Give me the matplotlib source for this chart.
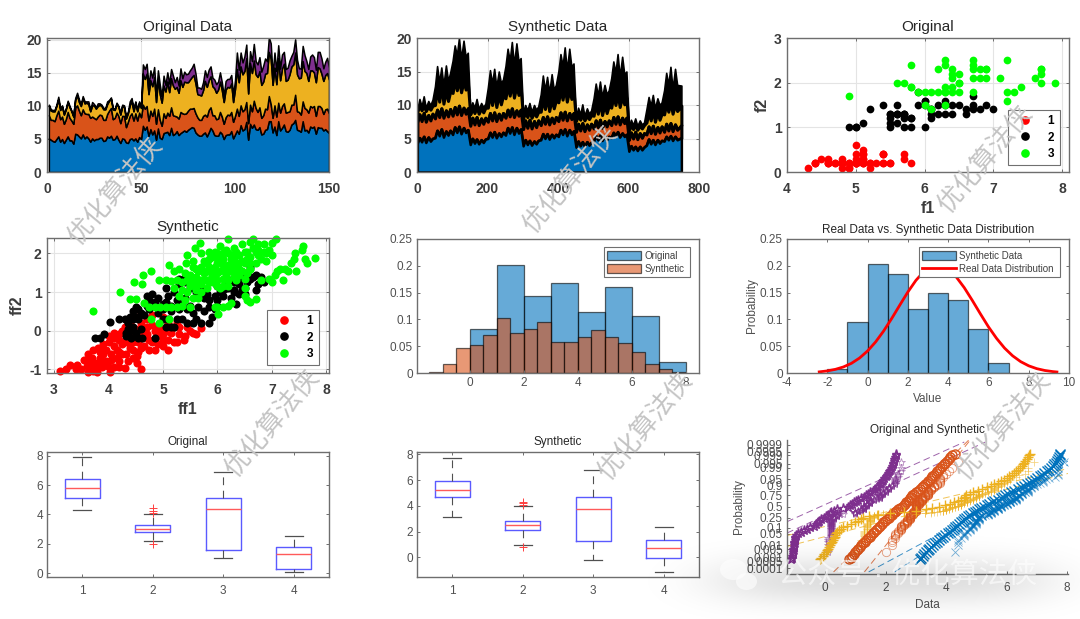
import numpy as np
import matplotlib
matplotlib.use("Agg")
import matplotlib.pyplot as plt
from matplotlib.lines import Line2D
from matplotlib.patches import Ellipse
from statistics import NormalDist

plt.rcParams['font.family'] = ['Liberation Sans', 'Noto Sans CJK SC', 'DejaVu Sans']
plt.rcParams['axes.unicode_minus'] = False

W, H = 1080, 619

# iris features, as seen in the "Original" panels
sepal_l = [5.1,4.9,4.7,4.6,5.0,5.4,4.6,5.0,4.4,4.9,5.4,4.8,4.8,4.3,5.8,5.7,5.4,5.1,5.7,5.1,5.4,5.1,4.6,5.1,4.8,5.0,5.0,5.2,5.2,4.7,4.8,5.4,5.2,5.5,4.9,5.0,5.5,4.9,4.4,5.1,5.0,4.5,4.4,5.0,5.1,4.8,5.1,4.6,5.3,5.0,
           7.0,6.4,6.9,5.5,6.5,5.7,6.3,4.9,6.6,5.2,5.0,5.9,6.0,6.1,5.6,6.7,5.6,5.8,6.2,5.6,5.9,6.1,6.3,6.1,6.4,6.6,6.8,6.7,6.0,5.7,5.5,5.5,5.8,6.0,5.4,6.0,6.7,6.3,5.6,5.5,5.5,6.1,5.8,5.0,5.6,5.7,5.7,6.2,5.1,5.7,
           6.3,5.8,7.1,6.3,6.5,7.6,4.9,7.3,6.7,7.2,6.5,6.4,6.8,5.7,5.8,6.4,6.5,7.7,7.7,6.0,6.9,5.6,7.7,6.3,6.7,7.2,6.2,6.1,6.4,7.2,7.4,7.9,6.4,6.3,6.1,7.7,6.3,6.4,6.0,6.9,6.7,6.9,5.8,6.8,6.7,6.7,6.3,6.5,6.2,5.9]
sepal_w = [3.5,3.0,3.2,3.1,3.6,3.9,3.4,3.4,2.9,3.1,3.7,3.4,3.0,3.0,4.0,4.4,3.9,3.5,3.8,3.8,3.4,3.7,3.6,3.3,3.4,3.0,3.4,3.5,3.4,3.2,3.1,3.4,4.1,4.2,3.1,3.2,3.5,3.6,3.0,3.4,3.5,2.3,3.2,3.5,3.8,3.0,3.8,3.2,3.7,3.3,
           3.2,3.2,3.1,2.3,2.8,2.8,3.3,2.4,2.9,2.7,2.0,3.0,2.2,2.9,2.9,3.1,3.0,2.7,2.2,2.5,3.2,2.8,2.5,2.8,2.9,3.0,2.8,3.0,2.9,2.6,2.4,2.4,2.7,2.7,3.0,3.4,3.1,2.3,3.0,2.5,2.6,3.0,2.6,2.3,2.7,3.0,2.9,2.9,2.5,2.8,
           3.3,2.7,3.0,2.9,3.0,3.0,2.5,2.9,2.5,3.6,3.2,2.7,3.0,2.5,2.8,3.2,3.0,3.8,2.6,2.2,3.2,2.8,2.8,2.7,3.3,3.2,2.8,3.0,2.8,3.0,2.8,3.8,2.8,2.8,2.6,3.0,3.4,3.1,3.0,3.1,3.1,3.1,2.7,3.2,3.3,3.0,2.5,3.0,3.4,3.0]
petal_l = [1.4,1.4,1.3,1.5,1.4,1.7,1.4,1.5,1.4,1.5,1.5,1.6,1.4,1.1,1.2,1.5,1.3,1.4,1.7,1.5,1.7,1.5,1.0,1.7,1.9,1.6,1.6,1.5,1.4,1.6,1.6,1.5,1.5,1.4,1.5,1.2,1.3,1.4,1.3,1.5,1.3,1.3,1.3,1.6,1.9,1.4,1.6,1.4,1.5,1.4,
           4.7,4.5,4.9,4.0,4.6,4.5,4.7,3.3,4.6,3.9,3.5,4.2,4.0,4.7,3.6,4.4,4.5,4.1,4.5,3.9,4.8,4.0,4.9,4.7,4.3,4.4,4.8,5.0,4.5,3.5,3.8,3.7,3.9,5.1,4.5,4.5,4.7,4.4,4.1,4.0,4.4,4.6,4.0,3.3,4.2,4.2,4.2,4.3,3.0,4.1,
           6.0,5.1,5.9,5.6,5.8,6.6,4.5,6.3,5.8,6.1,5.1,5.3,5.5,5.0,5.1,5.3,5.5,6.7,6.9,5.0,5.7,4.9,6.7,4.9,5.7,6.0,4.8,4.9,5.6,5.8,6.1,6.4,5.6,5.1,5.6,6.1,5.6,5.5,4.8,5.4,5.6,5.1,5.1,5.9,5.7,5.2,5.0,5.2,5.4,5.1]
petal_w = [.2,.2,.2,.2,.2,.4,.3,.2,.2,.1,.2,.2,.1,.1,.2,.4,.4,.3,.3,.3,.2,.4,.2,.5,.2,.2,.4,.2,.2,.2,.2,.4,.1,.2,.2,.2,.2,.1,.2,.2,.3,.3,.2,.6,.4,.3,.2,.2,.2,.2,
           1.4,1.5,1.5,1.3,1.5,1.3,1.6,1.0,1.3,1.4,1.0,1.5,1.0,1.4,1.3,1.4,1.5,1.0,1.5,1.1,1.8,1.3,1.5,1.2,1.3,1.4,1.4,1.7,1.5,1.0,1.1,1.0,1.2,1.6,1.5,1.6,1.5,1.3,1.3,1.3,1.2,1.4,1.2,1.0,1.3,1.2,1.3,1.3,1.1,1.3,
           2.5,1.9,2.1,1.8,2.2,2.1,1.7,1.8,1.8,2.5,2.0,1.9,2.1,2.0,2.4,2.3,1.8,2.2,2.3,1.5,2.3,2.0,2.0,1.8,2.1,1.8,1.8,1.8,2.1,1.6,1.9,2.0,2.2,1.5,1.4,2.3,2.4,1.8,1.8,2.1,2.4,2.3,1.9,2.3,2.5,2.3,1.9,2.0,2.3,1.8]
iris_labels = [1]*50 + [2]*50 + [3]*50

# synthetic stack, upper edge of each layer (thinned from the 750 samples)
syn_x = [1,7,13,19,25,32,38,44, 51,57,63,69,75,82,88,94, 101,107,113,119,125,132,138,144, 151,157,163,169,175,182,188,194,
         201,207,213,219,225,232,238,244, 251,257,263,269,275,282,288,294, 301,307,313,319,325,332,338,344, 351,357,363,369,375,382,388,394,
         401,407,413,419,425,432,438,444, 451,457,463,469,475,482,488,494, 501,507,513,519,525,532,538,544, 551,557,563,569,575,582,588,594,
         601,607,613,619,625,632,638,644, 651,657,663,669,675,682,688,694, 701,707,713,719,725,732,738,750]
syn_blue = [4.3,5.1,4.5,5.3,4.4,5.2,4.6,5.0, 5.1,6.2,5.4,6.4,5.2,6.1,5.5,6.2, 5.6,6.7,5.9,6.8,5.7,6.6,5.9,6.3,
            4.1,5.0,4.3,4.9,4.2,4.8,4.4,4.9, 5.0,5.9,5.2,6.0,5.1,5.8,5.3,5.9, 5.5,6.6,5.8,6.7,5.6,6.6,5.8,6.4,
            3.9,4.8,4.1,4.7,4.0,4.6,4.2,4.7, 4.8,5.7,5.0,5.7,4.9,5.6,5.1,5.6, 5.3,6.3,5.6,6.4,5.4,6.3,5.6,6.1,
            3.7,4.6,3.9,4.5,3.8,4.5,4.0,4.4, 4.6,5.4,4.8,5.5,4.7,5.4,4.8,5.3, 5.1,5.9,5.3,6.0,5.2,5.8,5.3,5.6,
            3.1,3.9,3.3,3.8,3.2,3.8,3.3,3.7, 4.0,4.9,4.2,4.8,4.1,4.8,4.3,4.7, 4.6,5.3,4.8,5.4,4.7,5.3,4.8,5.1]
syn_orange = [7.4,8.6,7.6,8.8,7.5,8.5,7.7,8.7, 8.0,9.3,8.2,9.5,8.1,9.2,8.3,9.4, 8.4,9.7,8.6,9.9,8.5,9.6,8.7,9.5,
              6.9,8.1,7.1,8.2,7.0,8.0,7.2,8.1, 7.5,8.8,7.7,8.9,7.6,8.7,7.8,8.8, 8.1,9.3,8.3,9.5,8.2,9.2,8.4,9.3,
              6.4,7.7,6.6,7.8,6.5,7.6,6.7,7.7, 7.0,8.2,7.2,8.3,7.1,8.1,7.3,8.2, 7.6,8.9,7.8,9.0,7.7,8.8,7.9,8.8,
              6.0,7.2,6.2,7.3,6.1,7.1,6.3,7.2, 6.5,7.7,6.7,7.8,6.6,7.6,6.8,7.7, 7.0,8.2,7.2,8.3,7.1,8.1,7.3,8.1,
              4.8,5.9,5.0,6.0,4.9,5.8,5.1,5.8, 5.6,6.8,5.8,6.9,5.7,6.7,5.9,6.8, 6.0,7.2,6.2,7.3,6.1,7.1,6.3,7.0]
syn_yellow = [9.0,9.9,9.2,10.0,9.1,9.8,9.3,9.9, 10.0,12.5,10.5,13.0,10.2,12.2,10.6,12.0, 11.8,13.8,12.2,14.0,11.9,13.6,12.3,13.4,
              8.6,9.6,8.8,9.7,8.7,9.5,8.9,9.6, 9.6,11.8,10.0,12.2,9.7,11.6,10.1,11.4, 11.0,13.0,11.4,13.4,11.1,12.9,11.5,12.7,
              8.0,9.0,8.2,9.1,8.1,8.9,8.3,9.0, 9.0,11.0,9.4,11.4,9.1,10.9,9.5,10.7, 10.4,12.4,10.8,12.8,10.5,12.3,10.9,12.1,
              7.6,8.5,7.8,8.6,7.7,8.4,7.9,8.5, 8.4,10.2,8.7,10.6,8.5,10.1,8.8,9.9, 9.6,11.4,10.0,11.8,9.7,11.3,10.1,11.1,
              6.2,7.0,6.4,7.1,6.3,6.9,6.5,7.0, 7.4,9.0,7.7,9.4,7.5,8.9,7.8,8.7, 8.6,10.2,9.0,10.5,8.7,10.1,9.1,9.9]
syn_total = [9.4,10.9,9.8,11.3,9.6,10.6,10.0,10.8, 12.8,15.8,13.4,15.6,12.9,15.9,13.6,14.8, 16.6,18.9,17.4,20.0,16.9,19.6,17.2,17.8,
             9.3,10.4,9.6,10.9,9.4,10.3,9.7,10.2, 12.6,15.2,13.2,15.4,12.7,15.0,13.3,13.8, 15.8,18.4,16.6,19.4,16.0,19.2,16.5,17.0,
             8.8,10.0,9.2,10.3,9.0,10.0,9.3,9.8, 11.6,14.4,12.2,14.2,11.8,14.6,12.3,13.0, 15.0,17.6,15.8,18.6,15.2,18.4,15.7,16.2,
             8.2,9.6,8.6,10.1,8.4,9.5,8.7,9.2, 11.0,13.2,11.4,13.5,11.2,13.0,11.6,12.2, 14.0,16.5,14.8,17.6,14.2,17.2,14.6,15.0,
             6.8,7.8,7.0,8.0,6.9,7.7,7.1,7.4, 9.4,11.2,9.9,11.5,9.5,11.0,10.0,10.4, 12.2,14.8,13.0,15.7,12.4,15.4,13.0,12.9]

# synthetic scatter
red_x = [3.1,3.22,3.3,3.4,3.43,3.5,3.6,3.62,3.65,3.72,3.75,3.78,3.82,3.85,3.88,3.9,3.95,4.0,4.02,4.05,4.1,4.15,4.2,4.2,4.25,4.3,4.32,4.4,4.45,4.52,4.53,4.6,4.55,3.62,3.72,3.8,3.9,4.0,4.1,4.2,4.1,4.2,4.3,4.3,4.4,4.45,4.5,4.6,4.6,4.7,4.75,4.8,4.85,4.85,4.9,5.0,5.0,5.1,5.1,5.15,5.2,5.3,5.38,5.5,5.55,5.7,5.3,4.7,4.6,4.8,5.0,5.1,5.0,4.4,4.3,4.7,4.2,4.35,4.55,3.95,
         3.55,3.7,3.85,3.95,4.05,4.15,4.25,4.35,4.45,4.55,4.65,4.75,4.9,5.0,5.1,5.2,5.25,4.0,3.9,4.1,4.25,4.35,4.45,4.6,4.8,4.95,5.05,3.75,3.65,4.4,4.7,4.9,5.45,5.6,5.25,5.4]
red_y = [-1.05,-1.0,-0.9,-1.0,-0.9,-1.0,-0.93,-1.08,-0.88,-1.05,-0.95,-1.08,-0.85,-0.7,-0.95,-0.6,-0.78,-0.95,-1.08,-0.6,-0.95,-0.5,-0.95,-0.8,-0.35,-0.97,-0.6,-0.2,-0.5,-0.65,-0.85,-1.0,-0.3,-0.6,-0.5,-0.45,-0.35,-0.3,-0.4,-0.55,-0.2,-0.1,-0.05,-0.3,-0.45,-0.1,0.05,-0.2,-0.45,-0.1,-0.5,-0.3,0.0,-0.5,0.1,-0.25,-0.4,-0.5,-0.25,-0.05,0.1,-0.1,-0.25,0.0,-0.05,0.07,0.1,0.3,0.2,0.4,0.35,0.2,0.05,0.2,0.1,0.1,-0.25,0.2,0.35,-0.5,
         -0.75,-0.72,-0.55,-0.9,-0.75,-0.7,-0.6,-0.8,-0.7,-0.55,-0.4,-0.25,-0.15,-0.1,0.0,-0.3,0.25,-0.15,-0.5,-0.05,0.0,-0.15,-0.3,0.0,0.15,-0.05,0.1,-0.85,-0.75,-0.35,-0.2,-0.35,0.1,-0.1,-0.3,-0.15]
black_x = [3.75,3.85,3.92,4.03,4.2,4.3,4.35,4.32,4.32,4.4,4.42,4.45,4.5,4.55,4.6,4.62,4.5,4.4,4.45,4.5,4.55,4.7,4.75,4.8,4.85,4.85,4.9,5.0,5.05,5.1,5.15,5.05,5.15,5.2,5.0,5.1,5.25,5.35,5.45,5.55,5.6,5.7,5.85,5.3,5.2,5.3,5.4,5.5,5.6,5.65,5.75,5.85,5.95,6.05,6.1,6.15,6.2,6.25,6.3,6.35,6.4,6.45,6.5,6.6,6.6,6.65,6.75,6.85,6.7,5.8,5.5,5.4,5.95,6.0,6.3,6.0,
           4.35,4.45,4.55,4.65,4.75,4.6,4.7,4.9,5.0,5.05,5.15,5.25,5.35,5.45,5.55,5.65,5.75,5.9,6.0,6.1,6.2,6.3,6.4,6.5,6.55,6.25,6.15,6.35,6.45,6.7,6.55,6.8,5.3,5.4,5.5,5.6,5.7,5.85]
black_y = [-0.18,-0.18,-0.1,0.22,0.3,0.3,0.05,-0.05,-0.15,0.0,-0.2,0.1,-0.05,-0.2,0.05,-0.2,0.35,0.35,0.5,0.6,0.55,0.65,0.8,0.95,-0.2,0.75,0.85,0.7,1.1,0.9,0.65,0.1,0.1,0.1,0.3,0.3,0.3,0.3,0.2,0.2,0.3,0.2,0.2,0.55,1.0,1.35,1.25,1.1,1.2,0.9,0.85,0.6,0.55,1.0,0.9,1.1,1.25,0.85,1.05,0.7,1.2,1.05,0.95,1.35,1.65,1.4,1.2,1.25,1.05,0.95,0.65,0.85,0.9,0.8,1.25,1.15,
           0.2,0.3,0.3,0.4,0.55,0.45,0.9,0.45,0.55,0.75,0.5,0.8,0.7,0.55,0.45,0.6,0.5,0.35,0.65,1.05,1.1,1.0,0.95,1.1,1.25,1.3,1.2,1.3,1.4,1.45,1.5,1.4,1.2,1.4,1.3,1.0,1.1,0.8]
green_x = [3.72,4.22,4.47,4.62,4.63,4.78,4.4,4.5,4.65,4.75,4.85,4.95,5.05,5.15,5.25,5.35,5.5,4.78,4.93,5.12,4.92,5.05,5.15,5.12,5.2,5.3,5.4,5.45,5.42,5.55,5.58,5.68,5.2,5.3,5.35,5.4,5.45,5.55,5.6,5.65,5.7,5.6,5.7,5.8,5.8,5.75,5.7,5.85,5.9,5.85,5.95,6.0,5.95,6.05,6.05,6.05,6.1,6.15,6.2,6.2,6.2,6.25,6.3,6.3,6.35,6.4,6.4,6.45,6.5,6.55,6.55,6.6,6.6,6.65,6.7,6.75,6.8,6.85,6.9,6.95,7.0,7.08,6.95,7.0,7.05,7.1,7.15,7.2,7.25,7.3,7.35,7.4,7.42,7.45,7.55,7.58,7.6,7.65,7.8,6.0,6.2,5.95,6.1,6.25,6.5,6.55,6.6,6.7,6.5,6.8,6.02,5.5,5.75,5.9,6.0,5.9,6.1,5.6,5.5,5.65,5.85,6.0,6.15,6.3,5.55,5.95,6.4,6.6,
           5.5,5.6,5.7,5.8,5.9,6.0,6.1,6.2,6.3,6.4,6.5,6.6,6.7,5.65,5.75,5.85,5.95,6.05,6.15,6.25,6.35,6.45,6.55,6.65,6.75,5.5,5.6,5.7,5.8,5.9,6.0,6.1,6.2,6.3,6.4,6.5,6.6,6.75,6.85,6.9,7.0,6.0,6.1,6.25,6.45,5.35,5.25,5.45]
green_y = [0.52,1.0,1.27,1.22,1.43,1.55,0.82,0.82,0.72,0.62,0.6,0.6,0.6,0.6,0.6,0.65,0.6,0.3,0.2,0.3,1.3,1.3,1.28,1.7,1.55,1.6,1.5,1.95,1.75,1.8,2.15,2.28,1.1,0.9,1.05,0.8,1.0,0.85,1.15,0.85,1.0,1.4,1.3,1.1,1.55,1.8,2.0,1.65,1.9,2.05,1.3,1.75,2.05,1.55,1.1,2.2,1.85,1.45,1.7,2.0,2.37,1.55,1.85,2.15,1.3,1.6,1.95,2.25,1.75,1.5,2.05,2.3,1.9,2.37,1.75,2.1,1.85,2.25,1.8,2.1,2.28,2.38,1.35,1.25,1.45,1.55,1.6,1.3,1.6,1.55,1.75,1.85,2.0,1.55,2.1,2.2,1.85,1.75,1.87,0.62,0.65,0.62,0.62,0.72,0.9,0.8,0.75,0.82,1.1,1.3,0.42,1.3,1.3,1.4,1.3,1.6,1.7,1.05,1.15,1.6,1.25,1.9,1.6,1.4,1.65,1.5,1.45,1.6,
           1.2,1.6,1.2,1.75,1.25,2.0,1.35,1.15,1.55,1.75,1.35,1.6,2.05,1.55,1.5,1.85,1.65,1.95,2.1,1.85,2.05,1.55,1.85,2.15,1.95,1.45,1.25,1.65,1.3,1.45,1.5,2.0,1.3,1.7,1.5,2.05,1.75,2.25,2.05,2.0,1.95,1.15,1.15,1.95,1.8,1.25,1.3,1.3]

# overlaid histograms
orig_edges = [0,1,2,3,4,5,6,7,8]
orig_probs = [.083,.201,.143,.167,.114,.160,.107,.021]
syn_edges = [-1.5,-1,-.5,0,.5,1,1.5,2,2.5,3,3.5,4,4.5,5,5.5,6,6.5,7,7.5,8]
syn_probs = [.0015,.016,.047,.053,.071,.102,.074,.083,.096,.057,.057,.068,.081,.068,.056,.039,.016,.008,.001]

# synthetic histogram and the real data curve
hist_edges = [-2,-1,0,1,2,3,4,5,6,7]
hist_probs = [.008,.095,.203,.185,.120,.150,.137,.083,.018]
curve_x = [-2.4,-2,-1.6,-1.2,-.8,-.4,0,.4,.8,1.2,1.6,2,2.4,2.8,3.2,3.6,4,4.4,4.8,5.2,5.6,6,6.4,6.8,7.2,7.6,8,8.4,8.8,9.2,9.4]
curve_y = [.0021,.0039,.0068,.0113,.0181,.0279,.0411,.058,.0785,.1018,.1267,.1511,.1728,.1895,.199,.2006,.1937,.1793,.1592,.1354,.1104,.0862,.0648,.0465,.0321,.0212,.0134,.0081,.0047,.0026,.0019]

# box statistics per feature: low whisker, q1, median, q3, high whisker, outliers
orig_box = [(4.3,5.1,5.8,6.4,7.9,[]), (2.2,2.8,3.0,3.3,4.0,[2.0,4.1,4.2,4.4]), (1.0,1.6,4.35,5.1,6.9,[]), (0.1,0.3,1.3,1.8,2.5,[])]
syn_box = [(3.1,4.65,5.25,5.95,7.75,[]), (1.0,2.1,2.55,2.85,4.0,[0.8,4.1,4.2,4.3]), (-0.2,1.25,3.75,4.65,6.75,[]), (-1.1,-0.05,0.75,1.35,2.35,[])]

# probability plot
prob_ticks = [.0001,.0005,.001,.005,.01,.05,.1,.25,.5,.75,.9,.95,.99,.995,.999,.9995,.9999]
prob_labels = ['0.0001','0.0005','0.001','0.005','0.01','0.05','0.1','0.25','0.5','0.75','0.9','0.95','0.99','0.995','0.999','0.9995','0.9999']
p_levels = [.0007,.001,.0015,.002,.003,.004,.005,.007,.01,.013,.017,.022,.028,.035,.043,.052,.063,.075,.09,.105,.125,.145,.17,.195,.22,.25,.28,.31,.34,.37,.4,.43,.46,.5,.54,.57,.6,.63,.66,.69,.72,.75,.78,.805,.83,.855,.875,.895,.91,.925,.937,.948,.957,.965,.972,.978,.983,.987,.99,.993,.995,.996,.997,.998,.9985,.999,.9993]
q_blue = [3.13,3.17,3.23,3.28,3.33,3.39,3.43,3.5,3.58,3.64,3.71,3.77,3.84,3.91,3.98,4.05,4.12,4.19,4.25,4.31,4.37,4.43,4.49,4.55,4.6,4.65,4.72,4.8,4.88,4.95,5.02,5.09,5.17,5.25,5.35,5.43,5.52,5.6,5.7,5.8,5.87,5.95,6.06,6.15,6.25,6.37,6.47,6.58,6.67,6.77,6.85,6.95,7.02,7.1,7.18,7.24,7.32,7.4,7.46,7.52,7.58,7.62,7.66,7.7,7.72,7.76,7.78]
q_orange = [.8,.85,.9,.95,1.0,1.05,1.08,1.14,1.2,1.25,1.31,1.36,1.42,1.47,1.52,1.57,1.63,1.68,1.73,1.78,1.83,1.87,1.93,1.98,2.04,2.1,2.16,2.2,2.26,2.31,2.36,2.4,2.47,2.55,2.6,2.64,2.69,2.74,2.78,2.82,2.85,2.87,2.95,3.02,3.08,3.14,3.2,3.25,3.3,3.36,3.41,3.46,3.5,3.55,3.6,3.65,3.71,3.76,3.81,3.88,3.94,3.98,4.02,4.08,4.12,4.2,4.3]
q_yellow = [-.17,-.12,-.07,-.03,.02,.05,.08,.12,.17,.2,.24,.27,.3,.32,.34,.36,.4,.45,.52,.6,.72,.85,1.0,1.1,1.18,1.25,1.45,1.75,2.15,2.6,3.0,3.35,3.55,3.75,3.98,4.12,4.27,4.4,4.5,4.58,4.62,4.65,4.78,4.9,5.05,5.2,5.35,5.48,5.6,5.72,5.82,5.93,6.02,6.08,6.17,6.23,6.3,6.38,6.43,6.5,6.55,6.58,6.62,6.68,6.7,6.75,6.78]
q_purple = [-1.12,-1.1,-1.08,-1.07,-1.06,-1.05,-1.05,-1.04,-1.03,-1.03,-1.02,-1.0,-1.0,-.98,-.95,-.9,-.8,-.7,-.6,-.5,-.38,-.3,-.25,-.2,-.15,-.05,.03,.1,.15,.2,.3,.4,.58,.75,.82,.88,.94,1.02,1.1,1.18,1.27,1.35,1.42,1.5,1.57,1.65,1.7,1.75,1.8,1.84,1.88,1.92,1.96,2.0,2.03,2.07,2.1,2.14,2.17,2.2,2.23,2.25,2.27,2.29,2.31,2.34,2.36]
# dashed reference lines: x ends and probability ends
line_x = [[1.44,8.03],[2.3,8.03],[.28,4.75],[1.3,4.8],[-1.26,8.03],[-1.26,8.03],[-1.26,5.3],[-1.26,4.6]]
line_p = [[.00004,.994],[.00004,.997],[.00004,.99997],[.00004,.99997],[.04,.989],[.008,.977],[.055,.99995],[.18,.99995]]

blue, orange, yellow, purple = '#0072BD', '#D95319', '#EDB120', '#7E2F8E'
text_c = '#3c3c3c'
spine_c = '#6e6e6e'
bold_size = 10
thin_size = 8.5


def make_ax(x0, y0, x1, y1):
    ax = fig.add_axes([x0 / W, 1 - y1 / H, (x1 - x0) / W, (y1 - y0) / H])
    ax.tick_params(direction='in', top=True, right=True, length=2.5, width=0.7, color=spine_c)
    for s in ax.spines.values():
        s.set_color(spine_c)
        s.set_linewidth(1.0)
    return ax


def bold_style(ax, title=None, xlabel=None, ylabel=None):
    ax.tick_params(labelsize=bold_size, labelcolor=text_c)
    ax.tick_params(axis='x', pad=7)
    ax.tick_params(axis='y', pad=4)
    for t in ax.get_xticklabels() + ax.get_yticklabels():
        t.set_fontweight('bold')
    ax.grid(True, color='#e4e4e4', lw=0.8)
    ax.set_axisbelow(True)
    if title:
        ax.set_title(title, fontsize=11, color='#262626', pad=5)
    if xlabel:
        ax.set_xlabel(xlabel, fontsize=11.5, fontweight='bold', color=text_c, labelpad=4)
    if ylabel:
        ax.set_ylabel(ylabel, fontsize=11.5, fontweight='bold', color=text_c, labelpad=3)


def thin_style(ax, title=None, xlabel=None, ylabel=None, xpad=3):
    ax.tick_params(labelsize=thin_size, labelcolor='#505050', pad=3)
    ax.tick_params(axis='x', pad=xpad)
    if title:
        ax.set_title(title, fontsize=8.5, color='#262626', pad=5)
    if xlabel:
        ax.set_xlabel(xlabel, fontsize=8.5, color='#505050', labelpad=3)
    if ylabel:
        ax.set_ylabel(ylabel, fontsize=8.5, color='#505050', labelpad=1)


def legend_box(px, x0, y0, x1, y1):
    # legend rectangle in axes fractions from pixel positions
    return ((x0 - px[0]) / (px[2] - px[0]), 1 - (y1 - px[1]) / (px[3] - px[1]),
            (x1 - x0) / (px[2] - px[0]), (y1 - y0) / (px[3] - px[1]))


def scatter_legend(ax, px, x0, y0, x1, y1):
    handles = [Line2D([], [], ls='', marker='o', ms=5.2, color=c) for c in ('#ff0000', 'black', '#00ff00')]
    leg = ax.legend(handles, ['1', '2', '3'], loc='lower left', bbox_to_anchor=legend_box(px, x0, y0, x1, y1), mode='expand', borderaxespad=0,
                    prop={'weight': 'bold', 'size': 8.5}, fancybox=False, framealpha=1, edgecolor='#707070',
                    labelspacing=0.35, handletextpad=0.9, borderpad=0.45)
    leg.get_frame().set_linewidth(0.8)


def prob_to_z(p):
    p = np.clip(np.asarray(p, dtype=float), 1e-9, 1 - 1e-9)
    return np.vectorize(NormalDist().inv_cdf, otypes=[float])(p)


def z_to_prob(z):
    return np.vectorize(NormalDist().cdf, otypes=[float])(np.asarray(z, dtype=float))


fig = plt.figure(figsize=(W / 100, H / 100), dpi=100, facecolor='white')

# original stack
ax = make_ax(47, 38, 329, 172)
x = np.arange(1, 151)
ax.stackplot(x, sepal_l, sepal_w, petal_l, petal_w, colors=[blue, orange, yellow, purple], edgecolor='black', linewidth=1.1)
ax.set_xlim(0, 150)
ax.set_ylim(0, 20.3)
ax.set_xticks([0, 50, 100, 150])
ax.set_yticks([0, 5, 10, 15, 20])
bold_style(ax, 'Original Data')

# synthetic stack
ax = make_ax(417, 38, 699, 172)
ax.fill_between(syn_x, syn_yellow, syn_total, color='black', lw=1.2)
ax.fill_between(syn_x, syn_orange, syn_yellow, facecolor=yellow, edgecolor='black', lw=2.2)
ax.fill_between(syn_x, syn_blue, syn_orange, facecolor=orange, edgecolor='black', lw=2.2)
ax.fill_between(syn_x, 0, syn_blue, facecolor=blue, edgecolor='black', lw=1.8)
ax.set_xlim(0, 800)
ax.set_ylim(0, 20)
ax.set_xticks([0, 200, 400, 600, 800])
ax.set_yticks([0, 5, 10, 15, 20])
bold_style(ax, 'Synthetic Data')

# original scatter
px = (787, 38, 1069, 172)
ax = make_ax(*px)
for cls, c in zip([1, 2, 3], ['#ff0000', 'black', '#00ff00']):
    idx = [i for i, v in enumerate(iris_labels) if v == cls]
    ax.scatter([sepal_l[i] for i in idx], [petal_w[i] for i in idx], s=31, color=c, linewidths=0, clip_on=False)
ax.set_xlim(4, 8.1)
ax.set_ylim(0, 3)
ax.set_xticks([4, 5, 6, 7, 8])
ax.set_yticks([0, 1, 2, 3])
bold_style(ax, 'Original', 'f1', 'f2')
scatter_legend(ax, px, 1008, 113, 1060, 165)

# synthetic scatter
px = (47, 238, 329, 373)
ax = make_ax(*px)
ax.scatter(red_x, red_y, s=34, color='#ff0000', linewidths=0, clip_on=False)
ax.scatter(black_x, black_y, s=34, color='black', linewidths=0, clip_on=False)
ax.scatter(green_x, green_y, s=34, color='#00ff00', linewidths=0, clip_on=False)
ax.set_xlim(2.87, 8.05)
ax.set_ylim(-1.1, 2.4)
ax.set_xticks([3, 4, 5, 6, 7, 8])
ax.set_yticks([-1, 0, 1, 2])
bold_style(ax, 'Synthetic', 'ff1', 'ff2')
scatter_legend(ax, px, 267, 313, 319, 365)

# overlaid histograms
px = (417, 239, 699, 373)
ax = make_ax(*px)
ax.tick_params(top=False, right=False)
ax.bar(orig_edges[:-1], orig_probs, width=1, align='edge', facecolor=blue, edgecolor='black', alpha=0.6, lw=0.9, label='Original')
ax.bar(syn_edges[:-1], syn_probs, width=0.5, align='edge', facecolor=orange, edgecolor='black', alpha=0.6, lw=0.9, label='Synthetic')
ax.set_xlim(-1.96, 8.5)
ax.set_ylim(0, 0.25)
ax.set_xticks([0, 2, 4, 6, 8])
ax.set_yticks([0, .05, .1, .15, .2, .25])
ax.set_yticklabels(['0', '0.05', '0.1', '0.15', '0.2', '0.25'])
thin_style(ax)
leg = ax.legend(loc='lower left', bbox_to_anchor=legend_box(px, 604, 247, 690, 277),
                mode='expand', borderaxespad=0, fontsize=7, fancybox=False, framealpha=1, edgecolor='#707070', handlelength=3.5, handleheight=1.1,
                labelspacing=0.3, handletextpad=0.3, borderpad=0.35, labelcolor='#404040')
leg.get_frame().set_linewidth(0.8)

# synthetic histogram with curve
px = (787, 239, 1069, 373)
ax = make_ax(*px)
bars = ax.bar(hist_edges[:-1], hist_probs, width=1, align='edge', facecolor=blue, edgecolor='black', alpha=0.6, lw=0.9)
curve, = ax.plot(curve_x, curve_y, color='#ff0000', lw=2)
ax.set_xlim(-4, 10)
ax.set_ylim(0, 0.25)
ax.set_xticks(range(-4, 11, 2))
ax.set_yticks([0, .05, .1, .15, .2, .25])
ax.set_yticklabels(['0', '0.05', '0.1', '0.15', '0.2', '0.25'])
thin_style(ax, None, 'Value', 'Probability')
ax.set_title('Real Data vs. Synthetic Data Distribution', fontsize=8.5, color='#262626', pad=4)
leg = ax.legend([bars, curve], ['Synthetic Data', 'Real Data Distribution'], loc='lower left', bbox_to_anchor=legend_box(px, 919, 247, 1060, 277),
                mode='expand', borderaxespad=0, fontsize=7, fancybox=False, framealpha=1, edgecolor='#707070', handlelength=3.5, handleheight=1.1,
                labelspacing=0.3, handletextpad=0.3, borderpad=0.35, labelcolor='#404040')
leg.get_frame().set_linewidth(0.8)

# box plots
for box_values, px, ylim, title in [(orig_box, (47, 452, 329, 577), (-0.27, 8.25), 'Original'),
                                    (syn_box, (417, 452, 699, 577), (-1.52, 8.18), 'Synthetic')]:
    ax = make_ax(*px)
    stats = [dict(whislo=b[0], q1=b[1], med=b[2], q3=b[3], whishi=b[4], fliers=b[5]) for b in box_values]
    ax.bxp(stats, positions=[1, 2, 3, 4], widths=0.5,
           boxprops=dict(color='#5a5aff', lw=1.0),
           medianprops=dict(color='#ff5a5a', lw=1.0),
           whiskerprops=dict(color='#505050', lw=0.8, ls=(0, (7, 5))),
           capprops=dict(color='#505050', lw=0.9),
           flierprops=dict(marker='+', markeredgecolor='#ff4040', markersize=6, markeredgewidth=0.7))
    ax.set_xlim(0.5, 4.5)
    ax.set_ylim(*ylim)
    ax.set_xticks([1, 2, 3, 4])
    ax.set_xticklabels(['1', '2', '3', '4'])
    ax.set_yticks([0, 2, 4, 6, 8])
    thin_style(ax, title, xpad=6)

# probability plot
ax = make_ax(787, 440, 1068, 574)
ax.tick_params(top=False, right=False)
ax.spines['top'].set_visible(False)
ax.spines['right'].set_visible(False)
ax.set_yscale('function', functions=(prob_to_z, z_to_prob))
for lx, lp, c in zip(line_x, line_p, [blue, blue, orange, orange, yellow, yellow, purple, purple]):
    ax.plot(lx, lp, color=c, lw=0.7, ls=(0, (7, 4)), alpha=0.75)
iris_cols = [sepal_l, sepal_w, petal_l, petal_w]
markers = ['x', 'o', '+', '*']
for col, m, c in zip(iris_cols, markers, [blue, orange, yellow, purple]):
    vals = np.sort(col)
    probs = (np.arange(1, 151) - 0.5) / 150
    ax.plot(vals, probs, ls='', marker=m, color=c, mfc='none', ms=6, mew=0.6, alpha=0.55)
for q, m, c in zip([q_blue, q_orange, q_yellow, q_purple], markers, [blue, orange, yellow, purple]):
    ax.plot(q, p_levels, ls='', marker=m, color=c, mfc='none', ms=6.5, mew=1.0)
ax.set_xlim(-1.26, 8.03)
ax.set_ylim(2.35e-5, 0.99997)
ax.set_xticks([0, 2, 4, 6, 8])
ax.set_yticks(prob_ticks)
ax.set_yticklabels(prob_labels)
ax.minorticks_off()
thin_style(ax, 'Original and Synthetic', 'Data', 'Probability', xpad=6)

# soft grey patch behind the account name, bottom right
yy, xx = np.mgrid[0:H, 0:W]
shade = np.exp(-((np.abs(xx - 880) / 170) ** 4)) * np.exp(-((yy - 580) / 24.0) ** 2) * 0.13
rgba = np.zeros((H, W, 4))
rgba[..., 3] = shade
bg = fig.add_axes([0, 0, 1, 1], zorder=5)
bg.imshow(rgba, aspect='auto', interpolation='bilinear')
bg.add_patch(Ellipse((733, 569), 27, 21, facecolor='white', alpha=0.6, lw=0))
bg.add_patch(Ellipse((746, 581), 21, 17, facecolor='white', alpha=0.6, lw=0))
bg.axis('off')

# watermarks
marks = [(115, 192), (570, 180), (985, 160), (272, 424), (645, 427), (1003, 427)]
for mx, my in marks:
    fig.text(mx / W, 1 - my / H, '优化算法侠', fontsize=19, color='#c4c4c4', rotation=50, ha='center', va='center', zorder=6,
             rotation_mode='anchor')
fig.text(907 / W, 1 - 576 / H, '公众号 · 优化算法侠', fontsize=21, color='white', ha='center', va='center', zorder=7, alpha=0.6)

fig.savefig('out.png', dpi=100)
